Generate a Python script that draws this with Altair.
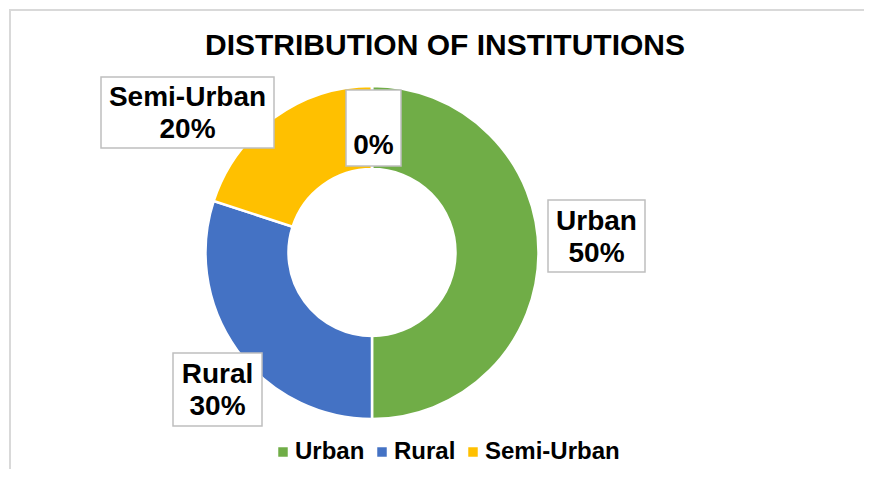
import math
import altair as alt
import pandas as pd

# ---- data ----
categories = ["Urban", "Rural", "Semi-Urban", ""]
shares = [50, 30, 20, 0]
slice_colors = ["#70AD47", "#4472C4", "#FFC000", "#A5A5A5"]
legend_categories = ["Urban", "Rural", "Semi-Urban"]
title_text = "DISTRIBUTION OF INSTITUTIONS"

# ---- layout / style constants ----
W, H = 856, 461
CX, CY = 363, 243.5
R_OUT, R_IN = 166.5, 83.5
FONT = "Liberation Sans"
BORDER = "#D9D9D9"
BOX_STROKE = "#BFBFBF"
LABEL_SIZE = 28
LINE_H = 32

# label box placement (offset of box centre from donut centre, box size)
label_layout = {
    "Urban": (224.5, -16.5, 97, 72),
    "Rural": (-154.5, 137.0, 89, 73),
    "Semi-Urban": (-184.5, -140.0, 173, 71),
    "": (1.5, -124.5, 55, 76),
}

slices = pd.DataFrame({
    "category": categories,
    "share": shares,
    "order": list(range(len(categories))),
})

total = sum(shares)
rows = []
for cat, val in zip(categories, shares):
    dx, dy, bw, bh = label_layout[cat]
    cx, cy = CX + dx, CY + dy
    rows.append({
        "category": cat,
        "label": f"{cat}\n{round(100 * val / total)}%",
        "x": cx - bw / 2, "x2": cx + bw / 2,
        "y": cy - bh / 2, "y2": cy + bh / 2,
        "tx": cx, "ty": cy - LINE_H / 2 + 1.6,
    })
labels = pd.DataFrame(rows)

donut = alt.Chart(slices).mark_arc(
    outerRadius=R_OUT, innerRadius=R_IN, stroke="white", strokeWidth=2.5
).encode(
    theta=alt.Theta("share:Q", stack=True),
    order=alt.Order("order:Q", sort="ascending"),
    color=alt.Color(
        "category:N",
        scale=alt.Scale(domain=categories, range=slice_colors),
        sort=categories,
        legend=alt.Legend(
            title=None,
            values=legend_categories,
            orient="none",
            legendX=262,
            legendY=431,
            direction="horizontal",
            symbolType="square",
            symbolSize=90,
            symbolStrokeWidth=0,
            symbolOpacity=1,
            labelFont=FONT,
            labelFontSize=24,
            labelFontWeight="bold",
            labelColor="#000000",
            labelOffset=0,
            columnPadding=5,
            padding=0,
            labelLimit=300,
        ),
    ),
    x=alt.value(CX),
    y=alt.value(CY),
)

boxes = alt.Chart(labels).mark_rect(
    fill="white", stroke=BOX_STROKE, strokeWidth=1.5
).encode(
    x=alt.X("x:Q", scale=None, axis=None),
    x2="x2:Q",
    y=alt.Y("y:Q", scale=None, axis=None),
    y2="y2:Q",
)

texts = alt.Chart(labels).mark_text(
    font=FONT, fontSize=LABEL_SIZE, fontWeight="bold", color="#000000",
    align="center", baseline="middle", lineBreak="\n", lineHeight=LINE_H,
).encode(
    x=alt.X("tx:Q", scale=None, axis=None),
    y=alt.Y("ty:Q", scale=None, axis=None),
    text="label:N",
)

title_df = pd.DataFrame({"t": [title_text]})
title = alt.Chart(title_df).mark_text(
    font=FONT, fontSize=30, fontWeight="bold", color="#000000",
    align="center", baseline="middle",
).encode(
    x=alt.value(436), y=alt.value(37), text="t:N"
)

top_border = alt.Chart(title_df).mark_rule(color=BORDER, strokeWidth=2).encode(
    x=alt.value(0), x2=alt.value(W), y=alt.value(1)
)
left_border = alt.Chart(title_df).mark_rule(color=BORDER, strokeWidth=2).encode(
    x=alt.value(1), y=alt.value(0), y2=alt.value(H)
)

chart = alt.layer(
    top_border, left_border, donut, boxes, texts, title
).properties(
    width=W, height=H, padding=0,
    autosize=alt.AutoSizeParams(type="fit", contains="padding"),
).configure_view(stroke=None).resolve_scale(x="independent", y="independent")

chart.save("out.html", embed_options={"renderer": "svg", "actions": False})
